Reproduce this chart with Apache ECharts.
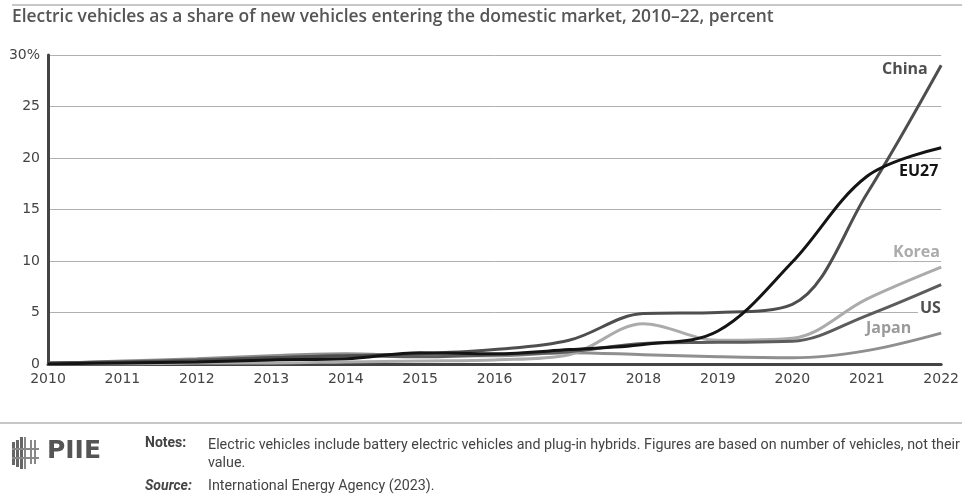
<!DOCTYPE html>
<html><head><meta charset="utf-8">
<script src="https://cdn.jsdelivr.net/npm/echarts@6/dist/echarts.min.js"></script>
<style>
html,body{margin:0;padding:0;background:#fff;}
#c{width:962px;height:498px;}
</style></head>
<body><div id="c"></div>
<script>
const years = ['2010','2011','2012','2013','2014','2015','2016','2017','2018','2019','2020','2021','2022'];
const china = [0.1, 0.2, 0.3, 0.6, 0.8, 1.0, 1.4, 2.3, 4.9, 5.0, 5.8, 16.5, 29.0];
const eu27  = [0.0, 0.1, 0.2, 0.4, 0.5, 1.1, 1.0, 1.4, 1.9, 3.2, 9.9, 18.2, 21.0];
const korea = [0.0, 0.0, 0.1, 0.1, 0.2, 0.3, 0.4, 0.9, 3.9, 2.3, 2.5, 6.3, 9.4];
const us    = [0.1, 0.2, 0.4, 0.6, 0.8, 0.7, 0.9, 1.2, 2.0, 2.1, 2.2, 4.7, 7.7];
const japan = [0.0, 0.3, 0.5, 0.8, 1.0, 0.8, 0.8, 1.1, 0.9, 0.7, 0.6, 1.3, 3.0];
const yTicks = [0, 5, 10, 15, 20, 25, 30];

const chart = echarts.init(document.getElementById('c'), null, {renderer:'canvas'});
const font = '"Open Sans", "Noto Sans", sans-serif';
const wide = '"DejaVu Sans", "Open Sans", sans-serif';
const narrow = '"Liberation Sans Narrow", "Roboto", sans-serif';

function line(name, data, color, z){
  return {name, type:'line', data, smooth:0.35, symbol:'none', z,
    lineStyle:{color, width:3}, emphasis:{disabled:true}};
}

chart.setOption({
  animation:false,
  grid:{left:48, right:17, top:55, bottom:134, containLabel:false},
  xAxis:{type:'category', data:years, boundaryGap:false,
    axisLine:{lineStyle:{color:'#444', width:3}},
    axisTick:{show:false},
    axisLabel:{color:'#444', fontFamily:wide, fontSize:14, margin:8,
      formatter:(v)=>v}},
  yAxis:{type:'value', min:0, max:30, interval:5,
    axisLine:{show:true, lineStyle:{color:'#444', width:3}},
    axisTick:{show:false},
    splitLine:{lineStyle:{color:'#b0b0b0', width:1}},
    axisLabel:{color:'#444', fontFamily:wide, fontSize:14, margin:8,
      formatter:(v)=> v===30 ? '30%' : String(v)}},
  series:[
    line('Japan', japan, '#8f8f8f', 2),
    line('Korea', korea, '#ababab', 3),
    line('US', us, '#5c5c5c', 4),
    line('China', china, '#4e4e4e', 5),
    line('EU27', eu27, '#141414', 6)
  ],
  graphic:[
    {type:'line', shape:{x1:12,y1:5,x2:962,y2:5}, style:{stroke:'#b5b5b5', lineWidth:1.5}},
    {type:'text', left:12, top:9, style:{text:'Electric vehicles as a share of new vehicles entering the domestic market, 2010–22, percent',
      font:'600 17.4px '+font, fill:'#555'}},
    {type:'text', left:882, top:61, z:10, style:{text:'China', font:'bold 16px '+font, fill:'#4e4e4e'}},
    {type:'text', left:899, top:163, z:10, style:{text:'EU27', font:'bold 16px '+font, fill:'#141414'}},
    {type:'text', left:891, top:244, z:10, style:{text:'Korea', font:'bold 16px '+font, fill:'#ababab', backgroundColor:'#fff', padding:[0,0,0,2]}},
    {type:'text', left:918, top:300, z:10, style:{text:'US', font:'bold 16px '+font, fill:'#4e4e4e', backgroundColor:'#fff', padding:[0,0,0,2]}},
    {type:'text', left:866, top:320, z:10, style:{text:'Japan', font:'bold 16px '+font, fill:'#9a9a9a'}},
    {type:'line', shape:{x1:0,y1:423,x2:962,y2:423}, style:{stroke:'#b5b5b5', lineWidth:1.5}},
    // logo
    {type:'group', left:12, top:437, children:[
      {type:'rect', shape:{x:0,y:5,width:3,height:23}, style:{fill:'#666'}},
      {type:'rect', shape:{x:4,y:3,width:3,height:27}, style:{fill:'#666'}},
      {type:'rect', shape:{x:8,y:0,width:3,height:32}, style:{fill:'#666'}},
      {type:'rect', shape:{x:12,y:0,width:2,height:32}, style:{fill:'#888'}},
      {type:'rect', shape:{x:18,y:3,width:2,height:24}, style:{fill:'#888'}},
      {type:'rect', shape:{x:22,y:3,width:2,height:24}, style:{fill:'#888'}},
      {type:'rect', shape:{x:0,y:11,width:27,height:2}, style:{fill:'#888'}},
      {type:'rect', shape:{x:0,y:20,width:27,height:2}, style:{fill:'#888'}}
    ]},
    {type:'text', left:47, top:439, style:{text:'PIIE', font:'bold 25px '+wide, fill:'#555'}},
    {type:'text', left:145, top:436, style:{text:'Notes:', font:'bold 14px '+narrow, fill:'#444'}},
    {type:'text', left:208, top:436, style:{text:'Electric vehicles include battery electric vehicles and plug-in hybrids. Figures are based on number of vehicles, not their\nvalue.', font:'14.3px '+narrow, fill:'#444', lineHeight:18}},
    {type:'text', left:145, top:479, style:{text:'Source:', font:'italic bold 14px '+narrow, fill:'#444'}},
    {type:'text', left:208, top:479, style:{text:'International Energy Agency (2023).', font:'14.3px '+narrow, fill:'#444'}}
  ]
});
</script></body></html>
